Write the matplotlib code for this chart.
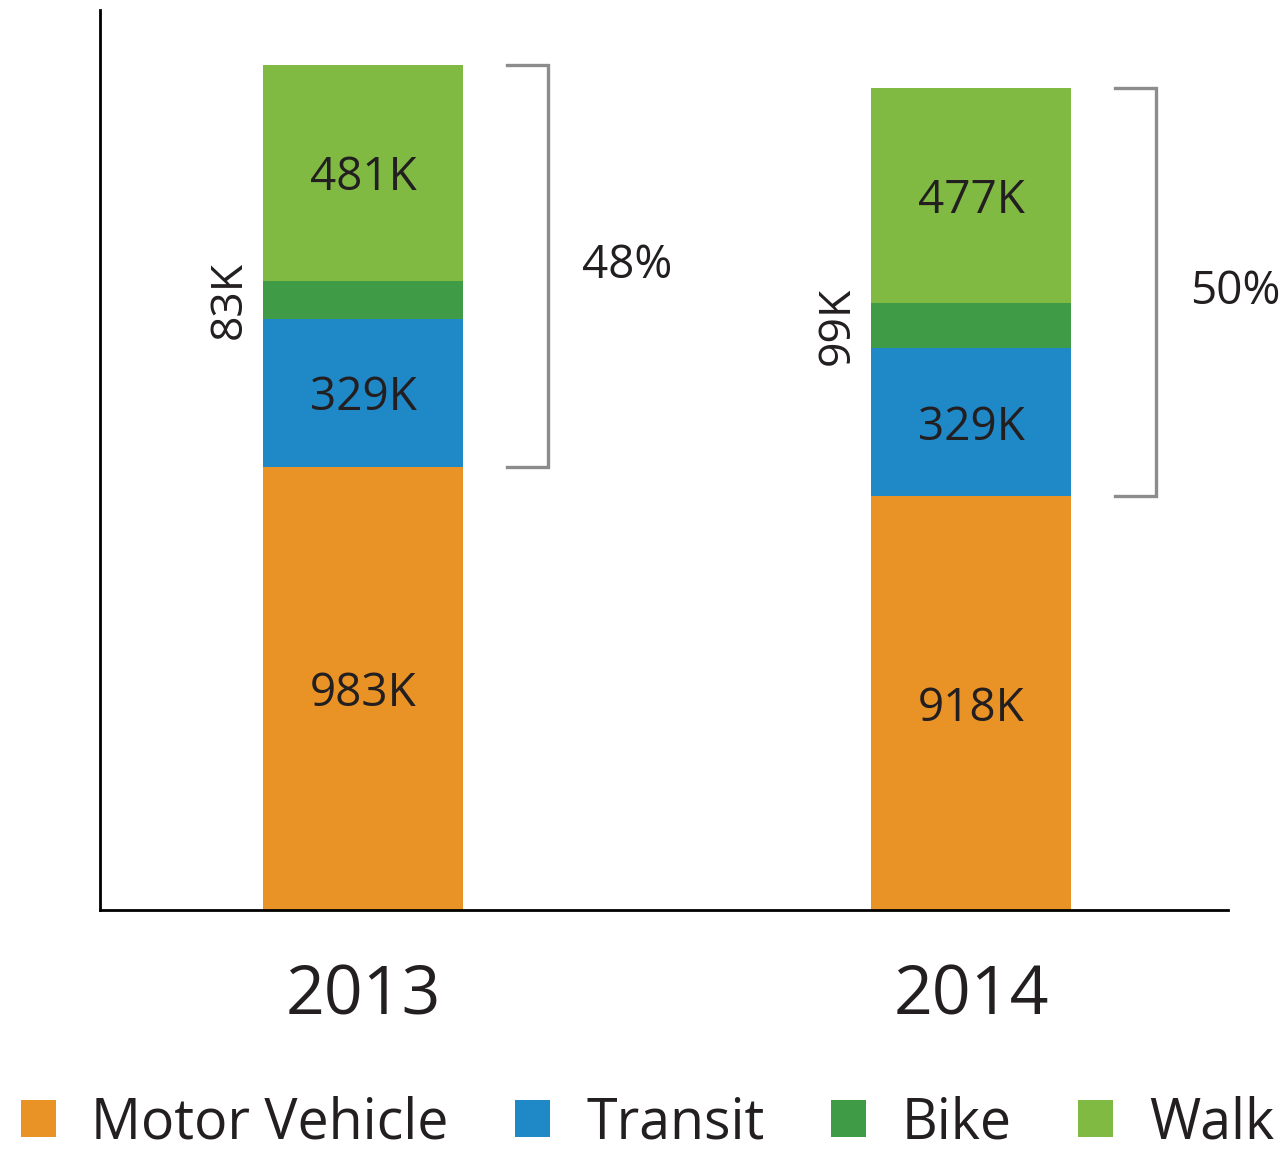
import matplotlib.pyplot as plt
import numpy as np

plt.rcParams['font.family'] = ['Open Sans', 'DejaVu Sans']

years = ['2013', '2014']
modes = ['Motor Vehicle', 'Transit', 'Bike', 'Walk']
motor = [983, 918]
transit = [329, 329]
bike = [83, 99]
walk = [481, 477]
share_labels = ['48%', '50%']

colors = ['#E99226', '#1F88C7', '#3F9B45', '#80BA43']
ink = '#231F20'
bracket_col = '#8C8C8C'

fig = plt.figure(figsize=(12.87, 11.5), dpi=100)
ax = fig.add_axes([100 / 1287, 1 - 910 / 1150, 1128 / 1287, 900 / 1150])

x = np.arange(len(years))
width = 0.329
series = [motor, transit, bike, walk]
bottom = np.zeros(len(years))
bars = []
for vals, col, name in zip(series, colors, modes):
  b = ax.bar(x, vals, width, bottom=bottom, color=col, label=name, linewidth=0)
  bars.append((b, np.array(vals), bottom.copy()))
  bottom = bottom + np.array(vals)

# value labels inside bars (bike labels rotated at the side)
for idx, (b, vals, bot) in enumerate(bars):
  for i in range(len(years)):
    mid = bot[i] + vals[i] / 2
    if modes[idx] == 'Bike':
      ax.text(x[i] - 0.219, mid, f'{vals[i]}K', rotation=90, ha='center', va='center',
              fontsize=32, color=ink)
    else:
      ax.text(x[i], mid, f'{vals[i]}K', ha='center', va='center_baseline', fontsize=33,
              color=ink)

# brackets for non-motor share
lo = np.array(motor)
hi = bottom
for i in range(len(years)):
  x0, x1 = x[i] + 0.237, x[i] + 0.304
  ax.plot([x0, x1, x1, x0], [hi[i], hi[i], lo[i], lo[i]], color=bracket_col, lw=2.4,
          solid_joinstyle='miter', clip_on=False)
  ax.text(x[i] + 0.434, (hi[i] + lo[i]) / 2, share_labels[i], ha='center', va='center',
          fontsize=33, color=ink, clip_on=False)

ax.set_xlim(-0.4326, 1.4227)
ax.set_ylim(0, 1997)
ax.set_xticks(x, years)
ax.set_yticks([])
ax.tick_params(axis='x', length=0, pad=38, labelsize=49, labelcolor=ink)
for s in ['top', 'right']:
  ax.spines[s].set_visible(False)
for s in ['left', 'bottom']:
  ax.spines[s].set_linewidth(2)
  ax.spines[s].set_color('black')

fig.legend(loc='center', bbox_to_anchor=(0.503, 0.023), ncol=4, frameon=False, fontsize=40,
           handlelength=0.63, handleheight=0.63, handletextpad=0.64, columnspacing=1.2,
           borderpad=0, borderaxespad=0, labelcolor=ink)

plt.savefig('out.png', dpi=100)
